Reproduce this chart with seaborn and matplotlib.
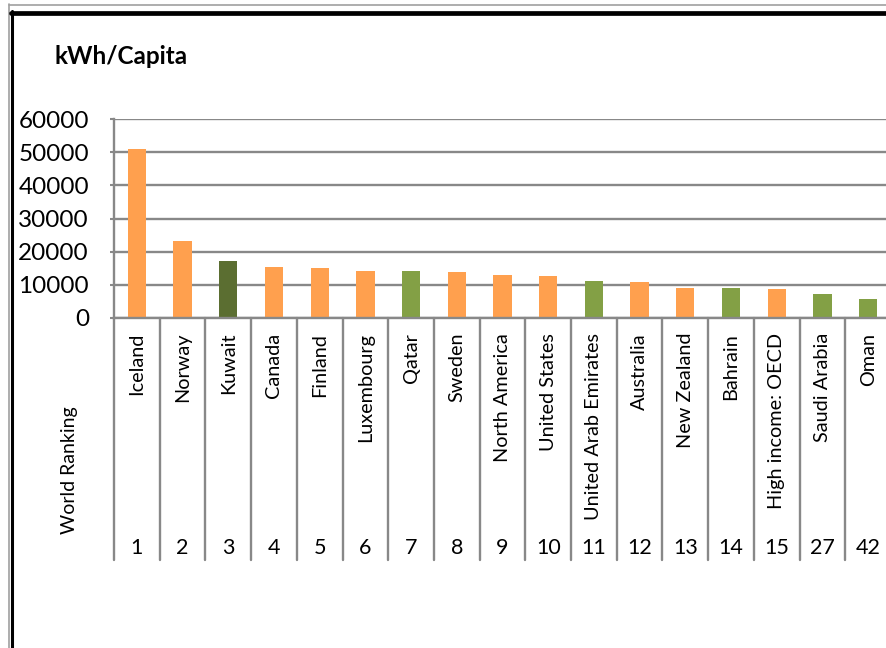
import matplotlib
matplotlib.use("Agg")
import matplotlib.pyplot as plt
import matplotlib.transforms as mtransforms
from matplotlib.lines import Line2D
import seaborn as sns
import pandas as pd

# ---- data ----
categories = ["Iceland", "Norway", "Kuwait", "Canada", "Finland", "Luxembourg",
              "Qatar", "Sweden", "North America", "United States",
              "United Arab Emirates", "Australia", "New Zealand", "Bahrain",
              "High income: OECD", "Saudi Arabia", "Oman"]
kwh_per_capita = [51000, 23300, 17300, 15300, 15000, 14200, 14200, 13900,
                  13000, 12700, 11250, 10850, 9150, 8950, 8750, 7250, 5750]
world_ranking = ["1", "2", "3", "4", "5", "6", "7", "8", "9", "10", "11",
                 "12", "13", "14", "15", "27", "42"]
groups = ["o", "o", "kw", "o", "o", "o", "g", "o", "o", "o", "g", "o", "o",
          "g", "o", "g", "g"]
y_ticks = [0, 10000, 20000, 30000, 40000, 50000, 60000]

group_colors = {"o": "#FFA04E", "g": "#83A045", "kw": "#5B6E31"}
palette = {c: group_colors[g] for c, g in zip(categories, groups)}

df = pd.DataFrame({"country": categories, "kwh": kwh_per_capita})

sns.set_theme(style="white")
plt.rcParams["font.family"] = ["Lato", "DejaVu Sans"]

W, H = 887, 648
fig = plt.figure(figsize=(W / 100, H / 100), dpi=100)
fig.patch.set_facecolor("white")

# plot area in pixel coords
x0, x1 = 114, 891
y_top, y_zero = 119, 318
ax = fig.add_axes([x0 / W, 1 - y_zero / H, (x1 - x0) / W, (y_zero - y_top) / H])

sns.barplot(data=df, x="country", y="kwh", hue="country", palette=palette,
            width=0.4, saturation=1, legend=False, linewidth=0, ax=ax)

ax.set_xlim(-0.5, len(categories) - 0.5)
ax.set_ylim(0, 60000)
ax.set_yticks(y_ticks)
ax.set_yticklabels([str(v) for v in y_ticks], fontsize=17.5, color="black")
ax.set_xticks([])
ax.set_xlabel("")
ax.set_ylabel("")

grid_c = "#888888"
ax.yaxis.grid(True, color=grid_c, linewidth=1.7)
ax.set_axisbelow(True)
for s in ["top", "right"]:
    ax.spines[s].set_visible(False)
for s in ["left", "bottom"]:
    ax.spines[s].set_color(grid_c)
    ax.spines[s].set_linewidth(1.7)
ax.tick_params(axis="y", length=3, width=1.5, color=grid_c, pad=15, left=True)

# category table below the axis
trans = mtransforms.blended_transform_factory(ax.transData, ax.transAxes)
ph = (y_zero - y_top)
sep_bottom = -(560 - y_zero) / ph
for i in range(len(categories) + 1):
    ax.add_line(Line2D([i - 0.5, i - 0.5], [0, sep_bottom], transform=trans,
                       color=grid_c, linewidth=1.7, clip_on=False))

name_top = -(333 - y_zero) / ph
rank_y = -(548 - y_zero) / ph
for i, (name, rk) in enumerate(zip(categories, world_ranking)):
    ax.text(i, name_top, name, rotation=90, ha="center", va="top",
            fontsize=14.3, transform=trans, clip_on=False, color="black")
    ax.text(i, rank_y, rk, ha="center", va="center", fontsize=15.5,
            transform=trans, clip_on=False, color="black")

fig.text(70 / W, 1 - 470 / H, "World Ranking", rotation=90, ha="center",
         va="center", fontsize=14, color="black")
fig.text(55 / W, 1 - 57 / H, "kWh/Capita", ha="left", va="center",
         fontsize=17.5, fontweight="bold", color="black")

# outer frame
fig.add_artist(Line2D([9 / W, 1], [1 - 4.5 / H, 1 - 4.5 / H], transform=fig.transFigure,
                      color="#A0A0A0", linewidth=1.2))
fig.add_artist(Line2D([9.5 / W, 9.5 / W], [0, 1 - 4 / H], transform=fig.transFigure,
                      color="#A0A0A0", linewidth=1.2))
fig.add_artist(Line2D([11 / W, 1], [1 - 12.5 / H, 1 - 12.5 / H], transform=fig.transFigure,
                      color="black", linewidth=3.4))
fig.add_artist(Line2D([12 / W, 12 / W], [0, 1 - 11 / H], transform=fig.transFigure,
                      color="black", linewidth=2.2))

fig.savefig("out.png", dpi=100)
